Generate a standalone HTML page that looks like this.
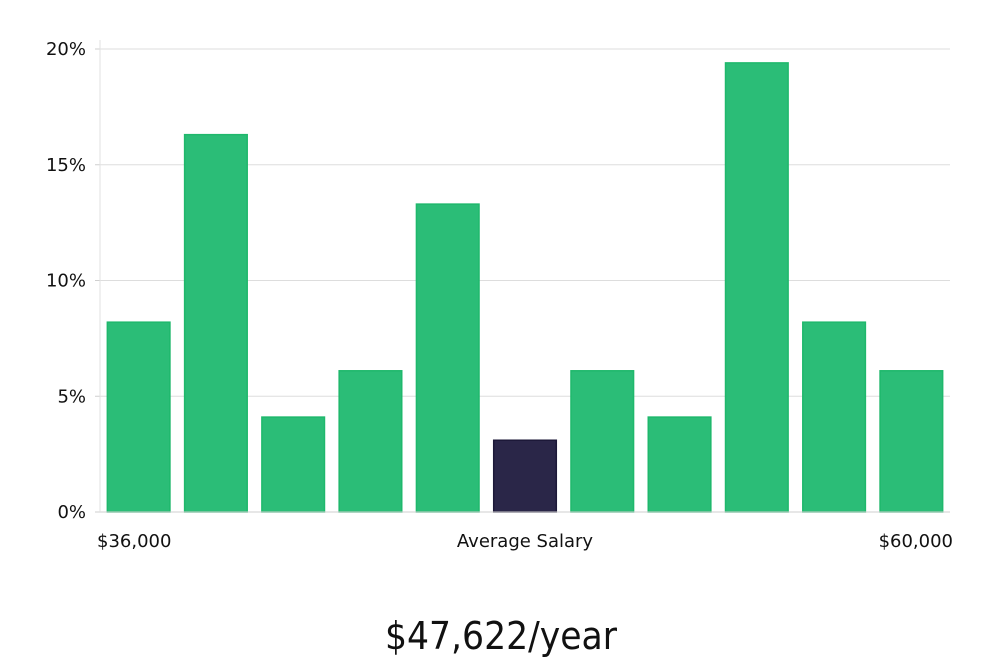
<!DOCTYPE html>
<html><head><meta charset="utf-8"><style>
html,body{margin:0;padding:0;background:#fff;}
svg{display:block;font-family:"DejaVu Sans","Liberation Sans",sans-serif;}
</style></head><body>
<svg id="chart" width="1000" height="660">
<g id="grid"></g>
<g id="yticks"></g>
<g id="bars"></g>
<line x1="100" y1="512" x2="950" y2="512" stroke="#cfcfcf" stroke-width="1"/>
<line x1="100" y1="40" x2="100" y2="512" stroke="#e2e2e2" stroke-width="1"/>
<text x="97" y="547" font-size="18" fill="#111">$36,000</text>
<text x="525" y="547" font-size="18" fill="#111" text-anchor="middle">Average Salary</text>
<text x="953" y="547" font-size="18" fill="#111" text-anchor="end">$60,000</text>
<text x="501" y="649" font-size="38" fill="#111" text-anchor="middle" textLength="232" lengthAdjust="spacingAndGlyphs" style="font-family:'DejaVu Sans Condensed','DejaVu Sans',sans-serif;font-weight:300">$47,622/year</text>
</svg>
<script>
const values = [8.2, 16.3, 4.1, 6.1, 13.3, 3.1, 6.1, 4.1, 19.4, 8.2, 6.1];
const highlightIndex = [5];
const tickValues = [0, 5, 10, 15, 20];
const tickLabels = ["0%", "5%", "10%", "15%", "20%"];

const NS = "http://www.w3.org/2000/svg";
const x0 = 100, x1 = 950, yBase = 512, yTop = 49, yMax = 20;
const y = v => yBase - (v / yMax) * (yBase - yTop);
const slot = (x1 - x0) / values.length;
const barW = slot * 0.81;
const xCenter = i => x0 + slot * (i + 0.5);

const grid = document.getElementById("grid");
const yt = document.getElementById("yticks");
tickValues.forEach((t, i) => {
  if (t > 0) {
    const l = document.createElementNS(NS, "line");
    l.setAttribute("x1", x0); l.setAttribute("x2", x1);
    l.setAttribute("y1", y(t)); l.setAttribute("y2", y(t));
    l.setAttribute("stroke", "#dddddd");
    
    
    grid.appendChild(l);
  }
  const tk = document.createElementNS(NS, "line");
  tk.setAttribute("x1", x0 - 5); tk.setAttribute("x2", x0);
  tk.setAttribute("y1", y(t)); tk.setAttribute("y2", y(t));
  tk.setAttribute("stroke", "#cfcfcf");
  
  
  yt.appendChild(tk);
  const tx = document.createElementNS(NS, "text");
  tx.setAttribute("x", 86); tx.setAttribute("y", y(t) + 6);
  tx.setAttribute("text-anchor", "end");
  tx.setAttribute("font-size", "18");
  tx.setAttribute("fill", "#111");
  tx.textContent = tickLabels[i];
  
  
  yt.appendChild(tx);
});

const bars = document.getElementById("bars");
values.forEach((v, i) => {
  const r = document.createElementNS(NS, "rect");
  const hi = highlightIndex.includes(i);
  r.setAttribute("x", xCenter(i) - barW / 2);
  r.setAttribute("y", y(v));
  r.setAttribute("width", barW);
  r.setAttribute("height", yBase - y(v));
  r.setAttribute("fill", hi ? "#2a2648" : "#2bbd77");
  r.setAttribute("stroke", hi ? "#1c1838" : "#1fb86c");
  r.setAttribute("stroke-width", "1.5");
  
  
  bars.appendChild(r);
});
</script>
</body></html>
